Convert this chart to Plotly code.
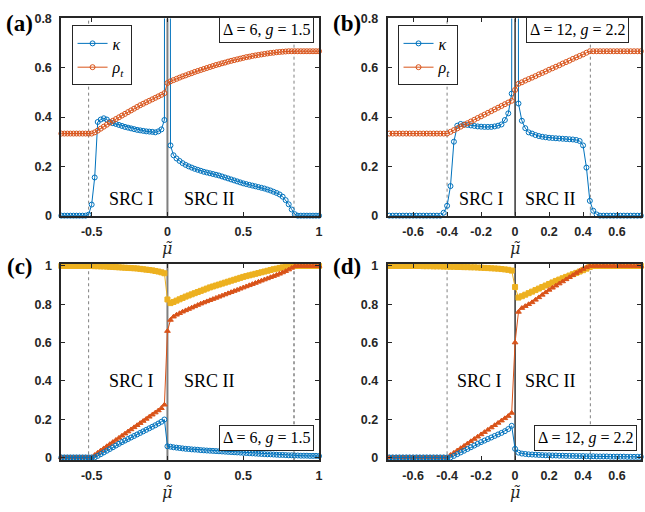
import plotly.graph_objects as go

BLUE = '#0072BD'
ORANGE = '#D95319'
YELLOW = '#EDB120'

# ---------- sampling grids (mu tilde) ----------
mu_a = [round(-0.70 + 0.02 * i, 2) for i in range(86)]   # panels (a), (c)
mu_b = [round(-0.74 + 0.02 * i, 2) for i in range(75)]   # panels (b), (d)

# ---------- panel (a): Delta=6, g=1.5 ----------
kappa_a = [0, 0, 0, 0, 0, 0, 0, 0, 0,
           0.004,
           0.045, 0.155, 0.38, 0.39, 0.395, 0.39, 0.38, 0.375, 0.372, 0.368,
           0.364, 0.36, 0.357, 0.354, 0.351, 0.348, 0.346, 0.344, 0.342, 0.341,
           0.34, 0.338, 0.342, 0.35, 0.388,
           20.0,
           0.285, 0.245, 0.232, 0.222, 0.213, 0.206, 0.2, 0.195, 0.19, 0.186,
           0.182, 0.178, 0.175, 0.172, 0.169, 0.166, 0.163, 0.159, 0.155, 0.151,
           0.147, 0.143, 0.139, 0.135, 0.131, 0.128, 0.125, 0.122, 0.119, 0.116,
           0.113, 0.11, 0.106, 0.102, 0.097, 0.092, 0.086, 0.077, 0.063, 0.046,
           0.025, 0.006,
           0, 0, 0, 0, 0, 0, 0, 0]
rho_a = [0.333, 0.333, 0.333, 0.333, 0.333, 0.333, 0.333, 0.333, 0.333, 0.333, 0.333,
         0.338, 0.345, 0.353, 0.361, 0.369, 0.377, 0.385, 0.392, 0.399, 0.406,
         0.413, 0.42, 0.427, 0.434, 0.441, 0.448, 0.454, 0.46, 0.466, 0.472,
         0.478, 0.484, 0.49, 0.497,
         0.538,
         0.545, 0.55, 0.555, 0.56, 0.565, 0.569, 0.574, 0.578, 0.583, 0.587,
         0.591, 0.595, 0.599, 0.603, 0.607, 0.611, 0.614, 0.618, 0.621, 0.625,
         0.628, 0.631, 0.634, 0.637, 0.64, 0.643, 0.645, 0.648, 0.65, 0.652,
         0.654, 0.656, 0.658, 0.66, 0.661, 0.663, 0.664, 0.665, 0.666, 0.667,
         0.667, 0.667,
         0.667, 0.667, 0.667, 0.667, 0.667, 0.667, 0.667, 0.667]

# ---------- panel (b): Delta=12, g=2.2 ----------
kappa_b = [0, 0, 0, 0, 0, 0, 0, 0, 0, 0, 0, 0, 0, 0, 0, 0,
           0.012, 0.04, 0.12, 0.3, 0.365, 0.372, 0.37, 0.368, 0.366, 0.364,
           0.362, 0.361, 0.36, 0.36, 0.36, 0.362, 0.365, 0.37, 0.388, 0.415,
           0.495,
           20.0,
           0.455, 0.385, 0.355, 0.338, 0.333, 0.327, 0.323, 0.32, 0.318, 0.316,
           0.315, 0.314, 0.313, 0.312, 0.311, 0.31, 0.309, 0.307, 0.303, 0.285,
           0.195, 0.06, 0.02, 0.005,
           0, 0, 0, 0, 0, 0, 0, 0, 0, 0, 0, 0, 0]
rho_b = [0.333, 0.333, 0.333, 0.333, 0.333, 0.333, 0.333, 0.333, 0.333,
         0.333, 0.333, 0.333, 0.333, 0.333, 0.333, 0.333, 0.333, 0.333,
         0.34, 0.347, 0.354, 0.361, 0.368, 0.375, 0.382, 0.389, 0.396, 0.403,
         0.41, 0.417, 0.424, 0.431, 0.438, 0.445, 0.452, 0.459, 0.466,
         0.51,
         0.535, 0.541, 0.548, 0.554, 0.56, 0.566, 0.573, 0.579, 0.585, 0.592,
         0.598, 0.604, 0.61, 0.617, 0.623, 0.629, 0.636, 0.642, 0.648, 0.654,
         0.661, 0.667,
         0.667, 0.667, 0.667, 0.667, 0.667, 0.667, 0.667, 0.667, 0.667, 0.667,
         0.667, 0.667, 0.667, 0.667, 0.667]

# ---------- panel (c): Delta=6, g=1.5 ----------
yel_c = [1.0, 1.0, 1.0, 1.0, 1.0, 1.0, 1.0, 1.0, 1.0, 1.0,
         1.0, 0.999, 0.999, 0.998, 0.998, 0.997, 0.996, 0.995, 0.994, 0.993,
         0.992, 0.991, 0.99, 0.989, 0.988, 0.987, 0.985, 0.983, 0.981, 0.979,
         0.977, 0.974, 0.971, 0.967, 0.962,
         0.825,
         0.806, 0.812, 0.819, 0.826, 0.833, 0.84, 0.846, 0.852, 0.858, 0.864,
         0.87, 0.876, 0.882, 0.888, 0.893, 0.898, 0.903, 0.908, 0.913, 0.918,
         0.923, 0.928, 0.933, 0.938, 0.943, 0.947, 0.951, 0.955, 0.959, 0.963,
         0.967, 0.971, 0.975, 0.979, 0.983, 0.986, 0.99, 0.993, 0.996, 0.998,
         0.999, 1.0,
         1.0, 1.0, 1.0, 1.0, 1.0, 1.0, 1.0, 1.0]
org_c = [0, 0, 0, 0, 0, 0, 0, 0, 0, 0, 0,
         0.012, 0.024, 0.036, 0.047, 0.058, 0.069, 0.08, 0.091, 0.102, 0.113,
         0.124, 0.135, 0.146, 0.157, 0.168, 0.179, 0.19, 0.201, 0.212, 0.223,
         0.234, 0.245, 0.257, 0.275,
         0.66,
         0.718, 0.735, 0.745, 0.753, 0.761, 0.768, 0.775, 0.782, 0.789, 0.796,
         0.803, 0.809, 0.815, 0.821, 0.827, 0.833, 0.839, 0.845, 0.851, 0.857,
         0.863, 0.869, 0.875, 0.881, 0.887, 0.893, 0.899, 0.905, 0.911, 0.917,
         0.923, 0.929, 0.935, 0.941, 0.947, 0.953, 0.959, 0.966, 0.973, 0.981,
         0.99, 0.998,
         1.0, 1.0, 1.0, 1.0, 1.0, 1.0, 1.0, 1.0]
blu_c = [0, 0, 0, 0, 0, 0, 0, 0, 0, 0, 0, 0,
         0.008, 0.017, 0.026, 0.035, 0.044, 0.053, 0.062, 0.071, 0.08, 0.088,
         0.096, 0.104, 0.112, 0.12, 0.128, 0.136, 0.144, 0.152, 0.16, 0.168,
         0.177, 0.186, 0.198,
         0.058,
         0.056, 0.053, 0.051, 0.049, 0.047, 0.045, 0.044, 0.042, 0.041, 0.04,
         0.038, 0.037, 0.036, 0.035, 0.034, 0.033, 0.032, 0.031, 0.03, 0.029,
         0.028, 0.027, 0.026, 0.025, 0.024, 0.023, 0.022, 0.021, 0.02, 0.019,
         0.018, 0.017, 0.016, 0.016, 0.015, 0.014, 0.013, 0.013, 0.012, 0.011,
         0.011, 0.01, 0.01, 0.009, 0.009, 0.009, 0.008, 0.008, 0.008, 0.007]

# ---------- panel (d): Delta=12, g=2.2 ----------
yel_d = [1.0, 1.0, 1.0, 1.0, 1.0, 1.0, 1.0, 1.0, 1.0, 1.0,
         0.999, 0.999, 0.999, 0.998, 0.998, 0.998, 0.997, 0.997,
         0.996, 0.996, 0.995, 0.995, 0.994, 0.994, 0.993, 0.993, 0.992, 0.991,
         0.99, 0.989, 0.988, 0.987, 0.986, 0.984, 0.982, 0.98, 0.976,
         0.89,
         0.835, 0.842, 0.85, 0.858, 0.866, 0.874, 0.882, 0.89, 0.898, 0.906,
         0.914, 0.922, 0.929, 0.936, 0.943, 0.95, 0.957, 0.964, 0.971, 0.978,
         0.986, 0.995,
         1.0, 1.0, 1.0, 1.0, 1.0, 1.0, 1.0, 1.0, 1.0, 1.0, 1.0, 1.0, 1.0, 1.0, 1.0]
org_d = [0, 0, 0, 0, 0, 0, 0, 0, 0, 0, 0, 0, 0, 0, 0, 0, 0, 0,
         0.012, 0.024, 0.036, 0.048, 0.06, 0.072, 0.084, 0.096, 0.108, 0.12,
         0.132, 0.144, 0.156, 0.168, 0.18, 0.192, 0.204, 0.216, 0.232,
         0.6,
         0.76, 0.78, 0.79, 0.8, 0.81, 0.823, 0.836, 0.849, 0.862, 0.875,
         0.886, 0.897, 0.908, 0.919, 0.93, 0.941, 0.952, 0.963, 0.974, 0.984,
         0.993, 1.0,
         1.0, 1.0, 1.0, 1.0, 1.0, 1.0, 1.0, 1.0, 1.0, 1.0, 1.0, 1.0, 1.0, 1.0, 1.0]
blu_d = [0, 0, 0, 0, 0, 0, 0, 0, 0, 0, 0, 0, 0, 0, 0, 0, 0, 0, 0,
         0.008, 0.017, 0.026, 0.035, 0.044, 0.053, 0.062, 0.071, 0.08, 0.088,
         0.096, 0.104, 0.112, 0.12, 0.128, 0.137, 0.148, 0.165,
         0.045,
         0.025, 0.02, 0.018, 0.016, 0.015, 0.014, 0.013, 0.012, 0.011, 0.011,
         0.01, 0.01, 0.009, 0.009, 0.008, 0.008, 0.008, 0.007, 0.007, 0.007,
         0.006, 0.006, 0.006, 0.005, 0.005, 0.005, 0.005, 0.004, 0.004, 0.004,
         0.004, 0.004, 0.003, 0.003, 0.003, 0.003, 0.003]

# phase boundaries (dotted lines)
bounds_a = [-0.52, 0.835]
bounds_b = [-0.40, 0.443]

# tick labels
xt_a = [-0.5, 0, 0.5, 1]
xt_a_txt = ['-0.5', '0', '0.5', '1']
xt_b = [-0.6, -0.4, -0.2, 0, 0.2, 0.4, 0.6]
xt_b_txt = ['-0.6', '-0.4', '-0.2', '0', '0.2', '0.4', '0.6']
yt_top = [0, 0.2, 0.4, 0.6, 0.8]
yt_top_txt = ['0', '0.2', '0.4', '0.6', '0.8']
yt_bot = [0, 0.2, 0.4, 0.6, 0.8, 1]
yt_bot_txt = ['0', '0.2', '0.4', '0.6', '0.8', '1']

fig = go.Figure()


def add(x, y, color, symbol, xa, ya, name=None, legend=None):
    fig.add_trace(go.Scatter(
        x=x, y=y, mode='lines+markers', xaxis=xa, yaxis=ya,
        line=dict(color=color, width=1),
        marker=dict(symbol=symbol, size=5, color=color,
                    line=dict(color=color, width=1)),
        cliponaxis=False,
        name=name or '', showlegend=name is not None,
        legend=legend or 'legend'))


add(mu_a, kappa_a, BLUE, 'circle-open', 'x', 'y', '<i>κ</i>', 'legend')
add(mu_a, rho_a, ORANGE, 'circle-open', 'x', 'y', '<i>ρ</i><sub><i>t</i></sub>', 'legend')
add(mu_b, kappa_b, BLUE, 'circle-open', 'x2', 'y2', '<i>κ</i>', 'legend2')
add(mu_b, rho_b, ORANGE, 'circle-open', 'x2', 'y2', '<i>ρ</i><sub><i>t</i></sub>', 'legend2')
add(mu_a, yel_c, YELLOW, 'square', 'x3', 'y3')
add(mu_a, org_c, ORANGE, 'triangle-up', 'x3', 'y3')
add(mu_a, blu_c, BLUE, 'circle-open', 'x3', 'y3')
add(mu_b, yel_d, YELLOW, 'square', 'x4', 'y4')
add(mu_b, org_d, ORANGE, 'triangle-up', 'x4', 'y4')
add(mu_b, blu_d, BLUE, 'circle-open', 'x4', 'y4')

AX = '#262626'
tickfont = dict(family='Liberation Sans', size=12.5, color=AX, weight='bold')


def axis(anchor, domain, rng, tv, tt, standoff):
    return dict(anchor=anchor, domain=domain, range=rng, tickvals=tv, ticktext=tt,
                showline=True, linecolor=AX, linewidth=2, mirror='ticks',
                ticks='inside', ticklen=4, tickwidth=1, tickcolor=AX,
                showgrid=False, zeroline=False, tickfont=tickfont,
                ticklabelstandoff=standoff, fixedrange=True)


XL = [0.0957, 0.4977]
XR = [0.6047, 1.0]
YT = [0.581, 0.977]
YB = [0.0898, 0.4838]

fig.update_layout(
    width=645, height=512, margin=dict(l=0, r=0, t=0, b=0),
    paper_bgcolor='white', plot_bgcolor='white',
    xaxis=axis('y', XL, [-0.7, 1.0], xt_a, xt_a_txt, 3),
    yaxis=axis('x', YT, [0, 0.8], yt_top, yt_top_txt, 5),
    xaxis2=axis('y2', XR, [-0.75, 0.741], xt_b, xt_b_txt, 3),
    yaxis2=axis('x2', YT, [0, 0.8], yt_top, yt_top_txt, 5),
    xaxis3=axis('y3', XL, [-0.7, 1.0], xt_a, xt_a_txt, 3),
    yaxis3=axis('x3', YB, [-0.015, 1.01], yt_bot, yt_bot_txt, 5),
    xaxis4=axis('y4', XR, [-0.75, 0.741], xt_b, xt_b_txt, 3),
    yaxis4=axis('x4', YB, [-0.015, 1.01], yt_bot, yt_bot_txt, 5),
    legend=dict(x=72 / 645, y=1 - 19 / 512, xanchor='left', yanchor='top',
                bordercolor=AX, borderwidth=1, bgcolor='white',
                font=dict(family='Liberation Serif', size=16, color='black'),
                tracegroupgap=0, itemwidth=30),
    legend2=dict(x=400 / 645, y=1 - 19 / 512, xanchor='left', yanchor='top',
                 bordercolor=AX, borderwidth=1, bgcolor='white',
                 font=dict(family='Liberation Serif', size=16, color='black'),
                 tracegroupgap=0, itemwidth=30),
    showlegend=True,
)

# vertical lines
shapes = []
for xa, b, dc, zc, zw in [('x', bounds_a, ['#808080', '#808080'], '#7f7f7f', 2),
                          ('x2', bounds_b, ['#808080', '#808080'], 'black', 1.2),
                          ('x3', bounds_a, ['#808080', '#404040'], '#7f7f7f', 2),
                          ('x4', bounds_b, ['#808080', '#808080'], 'black', 1.2)]:
    ya = xa.replace('x', 'y')
    for v, c in zip(b, dc):
        shapes.append(dict(type='line', xref=xa, yref=ya + ' domain', x0=v, x1=v,
                           y0=0, y1=1, line=dict(color=c, width=1, dash='dot'),
                           layer='below'))
    shapes.append(dict(type='line', xref=xa, yref=ya + ' domain', x0=0, x1=0,
                       y0=0, y1=1, line=dict(color=zc, width=zw), layer='below'))
fig.update_layout(shapes=shapes)

ann = []
serif = 'Liberation Serif'
# panel labels
for lab, px, py in [('(a)', 20, 17), ('(b)', 349, 17), ('(c)', 20, 267), ('(d)', 349, 267)]:
    ann.append(dict(text='<b>%s</b>' % lab, xref='paper', yref='paper',
                    x=px / 645, y=1 - py / 512, xanchor='center', yanchor='middle',
                    showarrow=False, font=dict(family=serif, size=23, color='black')))
# x-axis titles
for xa, py in [('x', 248), ('x2', 248), ('x3', 499), ('x4', 499)]:
    ann.append(dict(text='<i>μ̃</i>', xref=xa, yref='paper', x=0, y=1 - py / 512,
                    xanchor='center', yanchor='middle', showarrow=False,
                    font=dict(family='DejaVu Serif', size=16, color=AX)))
# SRC labels
for xa, ya, x1, x2, yy in [('x', 'y', -0.237, 0.279, 0.069), ('x2', 'y2', -0.2, 0.209, 0.069),
                           ('x3', 'y3', -0.237, 0.279, 0.397), ('x4', 'y4', -0.21, 0.209, 0.40)]:
    for t, xv in [('SRC I', x1), ('SRC II', x2)]:
        ann.append(dict(text=t, xref=xa, yref=ya, x=xv, y=yy, xanchor='center',
                        yanchor='middle', showarrow=False,
                        font=dict(family=serif, size=18, color='black')))
# parameter boxes
for txt, xr, yc in [('Δ = 6, <i>g</i> = 1.5', 316, 24), ('Δ = 12, <i>g</i> = 2.2', 633, 24),
                    ('Δ = 6, <i>g</i> = 1.5', 316, 443), ('Δ = 12, <i>g</i> = 2.2', 641, 443)]:
    ann.append(dict(text=txt, xref='paper', yref='paper', x=xr / 645, y=1 - yc / 512,
                    xanchor='right', yanchor='middle', showarrow=False,
                    bordercolor=AX, borderwidth=1, borderpad=3, bgcolor='white',
                    font=dict(family=serif, size=16, color='black')))
fig.update_layout(annotations=ann)

fig.write_html('out.html')
